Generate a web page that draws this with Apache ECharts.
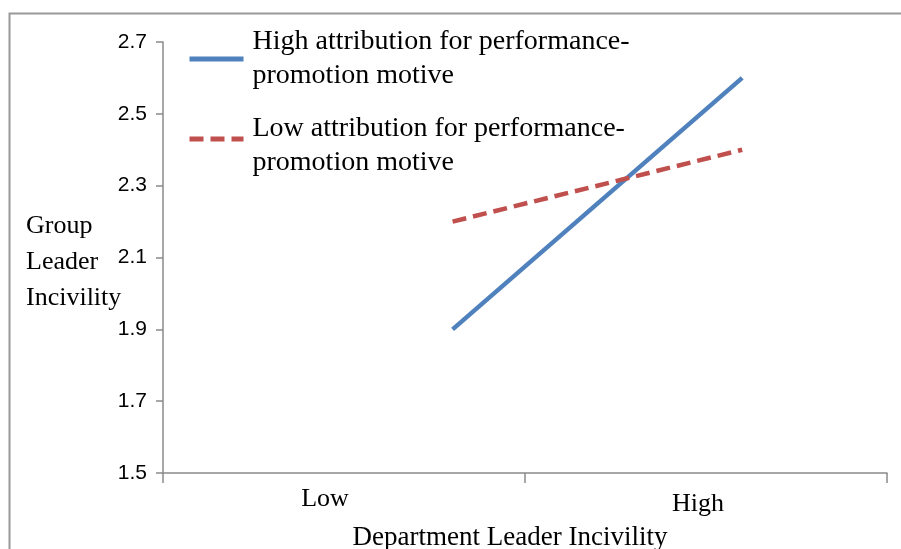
<!DOCTYPE html>
<html>
<head>
<meta charset="utf-8">
<script src="https://cdn.jsdelivr.net/npm/echarts@6/dist/echarts.min.js"></script>
<style>
html,body{margin:0;padding:0;background:#fff;}
#chart{width:901px;height:549px;}
</style>
</head>
<body>
<div id="chart"></div>
<script>
// ---- data ----
const categories = ['Low', 'High'];
const seriesNames = ['High attribution for performance-\npromotion motive', 'Low attribution for performance-\npromotion motive'];
const pointX = [0.4, 0.8];            // where the two simple-slope points sit on the x scale
const highAttribution = [1.9, 2.6];
const lowAttribution = [2.2, 2.4];
const yTicks = [1.5, 1.7, 1.9, 2.1, 2.3, 2.5, 2.7];

const serif = 'Liberation Serif';
const sans = 'Liberation Sans';
const axisGray = '#8a8a8a';

const chart = echarts.init(document.getElementById('chart'));
chart.setOption({
  animation: false,
  backgroundColor: '#fff',
  graphic: [{
    type: 'rect',
    shape: { x: 9.5, y: 13.5, width: 1000, height: 1000 },
    style: { fill: 'none', stroke: '#999', lineWidth: 2 },
    silent: true, z: -1
  }],
  grid: { left: 163, right: 14, top: 42, bottom: 76, containLabel: false, outerBoundsMode: 'none' },
  legend: {
    orient: 'vertical',
    left: 182, top: 20,
    itemWidth: 54, itemHeight: 14, itemGap: 5,
    itemStyle: { opacity: 0 },
    lineStyle: { width: 5 },
    formatter: name => name === seriesNames[1] ? '{gap| }\n' + name : name,
    textStyle: { fontFamily: serif, fontSize: 28, lineHeight: 34, color: '#000', padding: [0, 0, 0, 4],
      rich: { gap: { fontSize: 2, lineHeight: 14 } } },
    data: seriesNames
  },
  xAxis: [{
    type: 'category',
    data: [
      { value: categories[0], textStyle: { padding: [0, 38, 0, 0] } },
      { value: categories[1], textStyle: { padding: [5, 16, 0, 0] } }
    ],
    boundaryGap: true,
    axisLine: { lineStyle: { color: axisGray, width: 1.5 } },
    axisTick: { show: true, length: 10, lineStyle: { color: axisGray, width: 1.5 } },
    axisLabel: { fontFamily: serif, fontSize: 26, color: '#000', margin: 13 },
    name: 'Department Leader Incivility',
    nameLocation: 'middle',
    nameGap: 51,
    nameMoveOverlap: false,
    nameTextStyle: { fontFamily: serif, fontSize: 27, color: '#000', padding: [0, 30, 0, 0] }
  }, {
    type: 'value', min: 0, max: 1, show: false
  }],
  yAxis: {
    type: 'value',
    min: yTicks[0], max: yTicks[yTicks.length - 1], interval: 0.2,
    splitLine: { show: false },
    axisLine: { show: true, lineStyle: { color: axisGray, width: 1.5 } },
    axisTick: { show: true, length: 7, lineStyle: { color: axisGray, width: 1.5 } },
    axisLabel: { fontFamily: sans, fontSize: 21, color: '#000', margin: 16,
      formatter: v => v.toFixed(1) },
    name: '{gap| }\nGroup\nLeader\nIncivility',
    nameLocation: 'middle',
    nameRotate: 0,
    nameGap: 137,
    nameMoveOverlap: false,
    nameTextStyle: { fontFamily: serif, fontSize: 26, lineHeight: 36, color: '#000', align: 'left',
      rich: { gap: { fontSize: 2, lineHeight: 10 } } }
  },
  series: [{
    name: seriesNames[0],
    type: 'line',
    xAxisIndex: 1,
    data: pointX.map((x, i) => [x, highAttribution[i]]),
    symbol: 'none',
    lineStyle: { color: '#4F81BD', width: 4.5 },
    itemStyle: { color: '#4F81BD' }
  }, {
    name: seriesNames[1],
    type: 'line',
    xAxisIndex: 1,
    data: pointX.map((x, i) => [x, lowAttribution[i]]),
    symbol: 'none',
    lineStyle: { color: '#C0504D', width: 4.5, type: [14, 7] },
    itemStyle: { color: '#C0504D' }
  }]
});
</script>
</body>
</html>
